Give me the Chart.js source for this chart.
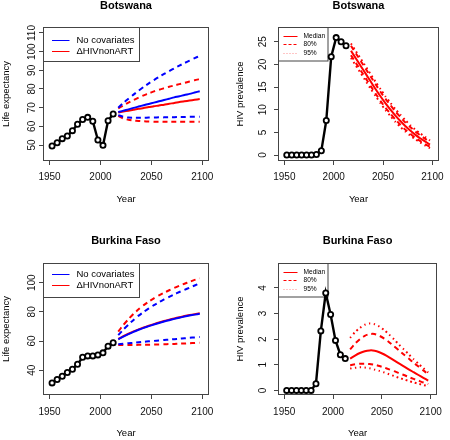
<!DOCTYPE html>
<html><head><meta charset="utf-8">
<script src="https://cdn.jsdelivr.net/npm/chart.js@4/dist/chart.umd.min.js"></script>
<style>
html,body{margin:0;padding:0;background:#fff;width:450px;height:440px;overflow:hidden}
.p{position:absolute;width:225px;height:220px}
canvas{display:block}
</style></head><body>
<div class="p" style="left:0;top:0"><canvas id="c1" width="225" height="220"></canvas></div>
<div class="p" style="left:225px;top:0"><canvas id="c2" width="225" height="220"></canvas></div>
<div class="p" style="left:0;top:220px"><canvas id="c3" width="225" height="220"></canvas></div>
<div class="p" style="left:225px;top:220px"><canvas id="c4" width="225" height="220"></canvas></div>
<script>
// ---------- data ----------
const histYears = [1952.5,1957.5,1962.5,1967.5,1972.5,1977.5,1982.5,1987.5,1992.5,1997.5,2002.5,2007.5,2012.5];
const projYears = [2017.5,2022.5,2027.5,2032.5,2037.5,2042.5,2047.5,2052.5,2057.5,2062.5,2067.5,2072.5,2077.5,2082.5,2087.5,2092.5,2097.5];
const xTickValues = [1950,2000,2050,2100];
const countries = ['Botswana','Burkina Faso'];
const leLegendLabels = ['No covariates','\u0394HIVnonART'];
const hivLegendLabels = ['Median','80%','95%'];

// Botswana life expectancy
const botLeHist = [49.5,51.2,53.4,54.8,57.7,61.1,63.7,64.8,62.7,52.7,49.8,63.0,66.6];
const botLeNoCovMed = [67.6,68.4,69.1,69.9,70.6,71.3,72.0,72.7,73.4,74.1,74.8,75.5,76.1,76.8,77.4,78.1,78.8];
const botLeNoCovHi  = [70.0,72.5,74.8,77.0,79.1,81.1,83.0,84.8,86.5,88.1,89.6,91.1,92.5,93.9,95.2,96.5,97.8];
const botLeNoCovLo  = [66.0,65.1,64.7,64.6,64.6,64.6,64.7,64.7,64.8,64.8,64.9,64.9,65.0,65.0,65.1,65.1,65.2];
const botLeHivMed   = [67.4,67.9,68.4,68.9,69.4,69.8,70.3,70.7,71.2,71.6,72.1,72.5,73.0,73.4,73.8,74.2,74.6];
const botLeHivHi    = [69.6,71.2,72.7,74.1,75.4,76.6,77.7,78.7,79.6,80.4,81.2,81.9,82.6,83.3,84.0,84.7,85.3];
const botLeHivLo    = [65.6,64.2,63.5,63.1,62.9,62.7,62.6,62.5,62.5,62.4,62.4,62.4,62.4,62.4,62.4,62.5,62.5];
const botLeYTicks = [50,60,70,80,90,100,110];

// Botswana HIV prevalence
const botHivHist = [0,0,0,0,0,0,0.12,0.95,7.6,21.7,25.9,25.0,24.1];
const botHivMed  = [23.0,21.3,19.6,17.9,16.2,14.5,12.9,11.4,10.0,8.7,7.5,6.4,5.4,4.5,3.7,3.0,2.3];
const botHiv80U  = [24.1,22.4,20.7,19.0,17.3,15.6,13.9,12.4,11.0,9.6,8.4,7.2,6.2,5.2,4.4,3.6,2.9];
const botHiv80L  = [22.0,20.3,18.6,16.9,15.2,13.5,11.9,10.4,9.1,7.8,6.7,5.6,4.7,3.8,3.1,2.4,1.8];
const botHiv95U  = [24.6,22.9,21.2,19.5,17.8,16.1,14.5,12.9,11.5,10.1,8.9,7.7,6.6,5.6,4.8,4.0,3.2];
const botHiv95L  = [21.4,19.7,18.0,16.3,14.6,13.0,11.4,9.9,8.6,7.3,6.2,5.2,4.3,3.5,2.8,2.1,1.5];
const botHivYTicks = [0,5,10,15,20,25];

// Burkina Faso life expectancy
const bfLeHist = [31.3,33.6,35.9,38.4,40.7,44.1,48.9,49.8,49.8,50.5,51.9,56.5,58.8];
const bfLeNoCovMed = [61.2,63.0,64.7,66.3,67.7,69.0,70.2,71.3,72.4,73.4,74.3,75.2,76.0,76.8,77.5,78.1,78.7];
const bfLeNoCovHi  = [64.0,67.8,71.3,74.5,77.4,80.0,82.4,84.6,86.6,88.5,90.3,92.0,93.6,95.1,96.6,98.1,99.6];
const bfLeNoCovLo  = [57.8,58.2,58.5,58.8,59.2,59.5,59.8,60.1,60.4,60.7,61.0,61.3,61.6,61.9,62.2,62.5,62.8];
const bfLeHivMed   = [61.5,63.3,65.0,66.6,68.0,69.3,70.5,71.6,72.7,73.7,74.6,75.5,76.3,77.1,77.8,78.4,79.0];
const bfLeHivHi    = [66.5,71.0,75.0,78.6,81.8,84.6,87.1,89.3,91.3,93.1,94.8,96.4,97.9,99.3,100.6,101.9,103.1];
const bfLeHivLo    = [57.3,57.3,57.3,57.3,57.4,57.4,57.5,57.6,57.7,57.8,57.9,58.0,58.2,58.3,58.5,58.7,58.9];
const bfLeYTicks = [40,60,80,100];

// Burkina Faso HIV prevalence
const bfHivHist = [0,0,0,0,0,0,0.26,2.32,3.80,2.96,1.95,1.39,1.24];
const bfHivMed  = [1.24,1.36,1.46,1.53,1.56,1.55,1.49,1.40,1.29,1.17,1.05,0.94,0.82,0.71,0.60,0.49,0.38];
const bfHiv80U  = [1.60,1.82,2.00,2.13,2.20,2.20,2.13,2.02,1.88,1.72,1.56,1.40,1.24,1.08,0.93,0.78,0.62];
const bfHiv95U  = [2.05,2.27,2.44,2.56,2.61,2.58,2.49,2.35,2.18,1.99,1.79,1.60,1.41,1.22,1.04,0.87,0.70];
const bfHiv80L  = [0.98,1.02,1.04,1.04,1.03,1.00,0.95,0.89,0.82,0.75,0.67,0.60,0.52,0.45,0.38,0.31,0.25];
const bfHiv95L  = [0.85,0.88,0.90,0.89,0.86,0.81,0.76,0.70,0.63,0.56,0.49,0.43,0.37,0.31,0.26,0.21,0.17];
const bfHivYTicks = [0,1,2,3,4];

// ---------- drawing ----------
const FONT = "'Liberation Sans', Arial, Helvetica, sans-serif";
const BLUE = '#0000FF', RED = '#FF0000';
const DASH = [5,4], DOT = [1.6,3.2];

function xy(xs, ys){ return xs.map((x,i)=>({x:x, y:ys[i]})); }
function histDs(vals){
  return {data: xy(histYears, vals), borderColor:'#000', borderWidth:2.4,
    pointRadius:2.6, pointBorderWidth:1.8, pointBackgroundColor:'#fff', pointBorderColor:'#000',
    pointHoverRadius:2.6, order:0, tension:0};
}
function projDs(vals, color, dash){
  return {data: xy(projYears, vals), borderColor:color, borderWidth:2, borderDash:dash,
    pointRadius:0, pointHoverRadius:0, order:1, tension:0.2};
}

const rBox = {
  id:'rBox',
  afterDraw(chart){
    const a = chart.chartArea, ctx = chart.ctx;
    ctx.save(); ctx.strokeStyle='#444'; ctx.lineWidth=1; ctx.setLineDash([]);
    ctx.strokeRect(Math.round(a.left)+0.5, Math.round(a.top)+0.5, Math.round(a.right-a.left)-1, Math.round(a.bottom-a.top)-1);
    ctx.restore();
  }
};
const rLegend = {
  id:'rLegend',
  beforeDatasetsDraw(chart, args, o){
    if (!o || !o.items) return;
    const ctx = chart.ctx, a = chart.chartArea;
    const L = Math.round(a.left)+0.5, T = Math.round(a.top)+0.5;
    ctx.save();
    ctx.fillStyle='#fff'; ctx.fillRect(L, T, o.w, o.h);
    ctx.strokeStyle='#444'; ctx.lineWidth=1; ctx.setLineDash([]);
    ctx.strokeRect(L, T, o.w, o.h);
    ctx.font = o.fontSize + 'px ' + FONT;
    ctx.textBaseline='middle'; ctx.textAlign='left';
    o.items.forEach((it,i)=>{
      const y = Math.round(T + o.rows[i]) + 0.5;
      ctx.beginPath(); ctx.strokeStyle=it.color; ctx.lineWidth=it.width; ctx.setLineDash(it.dash);
      ctx.moveTo(L+o.lineX[0], y); ctx.lineTo(L+o.lineX[1], y); ctx.stroke();
      ctx.fillStyle='#000'; ctx.fillText(it.label, L+o.textX, y);
    });
    ctx.restore();
  }
};

function makeChart(id, p){
  const top = p.row === 0;
  const left = p.col === 0;
  new Chart(document.getElementById(id), {
    type:'line',
    data:{datasets:p.datasets},
    options:{
      responsive:false, animation:false, devicePixelRatio:1,
      events:[],
      layout:{padding:{top:0,left:0,bottom:0,right: left ? 16 : 6}},
      plugins:{
        legend:{display:false}, tooltip:{enabled:false},
        title:{display:true, text:p.title, fullSize:false, color:'#000',
          font:{family:FONT, size:11, weight:'bold', lineHeight:1},
          padding: top ? {top:0.5,bottom:15.5} : {top:15,bottom:17}},
        rLegend:p.legend
      },
      scales:{
        x:{type:'linear', min:1943.6, max:2106.6,
          afterBuildTicks:s=>{ s.ticks = xTickValues.map(v=>({value:v})); },
          afterFit:s=>{ s.height = top ? 59 : 45; },
          ticks:{autoSkip:false, maxRotation:0, color:'#111', padding: top ? 6 : 7.7,
            font:{family:FONT, size:10}, callback:v=>String(v)},
          grid:{display:true, drawOnChartArea:false, drawTicks:true, tickLength:4, color:'#444', lineWidth:1},
          border:{display:false},
          title:{display:true, text:'Year', color:'#000', font:{family:FONT, size:9.5},
            padding:{top:0, bottom: top ? 15.3 : 1.3}}
        },
        y:{type:'linear', min:p.yMin, max:p.yMax,
          afterBuildTicks:s=>{ s.ticks = p.yTicks.map(v=>({value:v})); },
          afterFit:s=>{ s.width = left ? 43 : 53; },
          ticks:{autoSkip:false, minRotation:90, maxRotation:90, crossAlign:'center', color:'#111',
            padding:p.yPad, font:{family:FONT, size:10}, callback:v=>String(v)},
          grid:{display:true, drawOnChartArea:false, drawTicks:true, tickLength:4, color:'#444', lineWidth:1},
          border:{display:false},
          title:{display:true, text:p.yTitle, color:'#000', font:{family:FONT, size:9.5},
            padding:{top: left ? 0.3 : 10, bottom:0}}
        }
      }
    },
    plugins:[rLegend, rBox]
  });
}

const leLegend = (rows)=>({w:96, h:34, rows:rows, lineX:[8.5,26], textX:33, fontSize:9.5,
  items:[{label:leLegendLabels[0], color:BLUE, width:1, dash:[]},
         {label:leLegendLabels[1], color:RED, width:1, dash:[]}]});
const hivLegend = (rows)=>({w:49.5, h:33.5, rows:rows, lineX:[5,19], textX:25, fontSize:6.6,
  items:[{label:hivLegendLabels[0], color:RED, width:1, dash:[]},
         {label:hivLegendLabels[1], color:RED, width:1, dash:[3,2]},
         {label:hivLegendLabels[2], color:'rgba(255,0,0,0.45)', width:1, dash:[1,2]}]});

makeChart('c1', {row:0, col:0, title:countries[0], yTitle:'Life expectancy',
  yMin:41.43, yMax:113.21, yTicks:botLeYTicks, yPad:-1.3, legend:leLegend([12.3,23]),
  datasets:[histDs(botLeHist),
    projDs(botLeNoCovMed, BLUE, []), projDs(botLeNoCovHi, BLUE, DASH), projDs(botLeNoCovLo, BLUE, DASH),
    projDs(botLeHivMed, RED, []), projDs(botLeHivHi, RED, DASH), projDs(botLeHivLo, RED, DASH)]});

makeChart('c2', {row:0, col:1, title:countries[0], yTitle:'HIV prevalence',
  yMin:-1.32, yMax:28.24, yTicks:botHivYTicks, yPad:5.4, legend:hivLegend([8.5,16.8,25.2]),
  datasets:[histDs(botHivHist),
    projDs(botHivMed, RED, []), projDs(botHiv80U, RED, DASH), projDs(botHiv80L, RED, DASH),
    projDs(botHiv95U, RED, DOT), projDs(botHiv95L, RED, DOT)]});

makeChart('c3', {row:1, col:0, title:countries[1], yTitle:'Life expectancy',
  yMin:23.0, yMax:113.5, yTicks:bfLeYTicks, yPad:-1.3, legend:leLegend([10.6,21.6]),
  datasets:[histDs(bfLeHist),
    projDs(bfLeNoCovMed, BLUE, []), projDs(bfLeNoCovHi, BLUE, DASH), projDs(bfLeNoCovLo, BLUE, DASH),
    projDs(bfLeHivMed, RED, []), projDs(bfLeHivHi, RED, DASH), projDs(bfLeHivLo, RED, DASH)]});

makeChart('c4', {row:1, col:1, title:countries[1], yTitle:'HIV prevalence',
  yMin:-0.18, yMax:4.97, yTicks:bfHivYTicks, yPad:8.2, legend:hivLegend([8.3,16.6,25]),
  datasets:[histDs(bfHivHist),
    projDs(bfHivMed, RED, []), projDs(bfHiv80U, RED, DASH), projDs(bfHiv80L, RED, DASH),
    projDs(bfHiv95U, RED, DOT), projDs(bfHiv95L, RED, DOT)]});
</script>
</body></html>
